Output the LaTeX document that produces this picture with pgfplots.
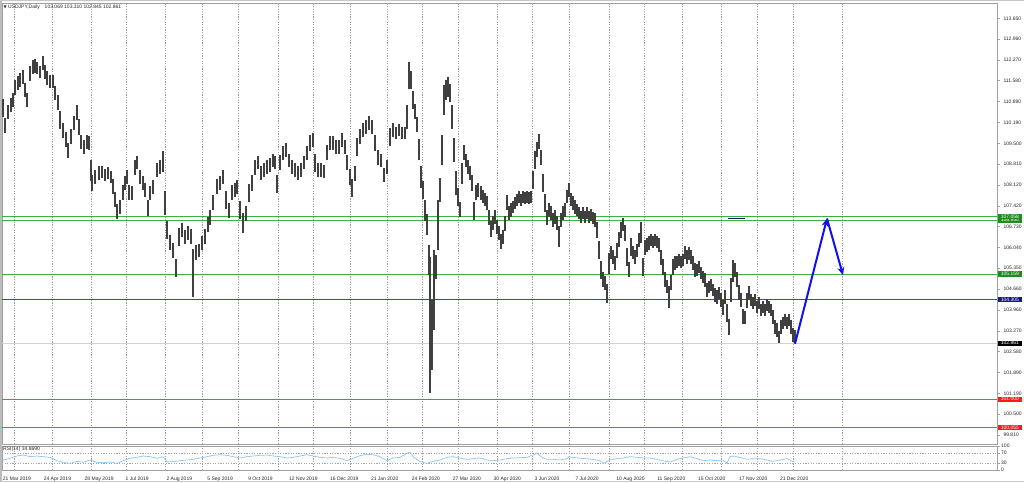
\documentclass[border=0pt]{standalone}
\usepackage{fontspec}
\setmainfont{Liberation Sans}
\newfontfamily\symfont{DejaVu Sans}
\usepackage{pgfplots}
\usepackage{pgfplotstable}
\pgfplotsset{compat=1.18}
\usetikzlibrary{arrows.meta}

\definecolor{lvgreen}{HTML}{3CB043}
\definecolor{lbgreen}{HTML}{1E8C1E}
\definecolor{lvblue}{HTML}{3C3CE6}
\definecolor{lbblue}{HTML}{18188C}
\definecolor{lvred}{HTML}{FF4040}
\definecolor{lbred}{HTML}{FF1A1A}
\definecolor{rsiblue}{HTML}{8CC4F2}
\definecolor{frame}{HTML}{A0A0A0}
\definecolor{arrowblue}{HTML}{1010F0}
\definecolor{boxnavy}{HTML}{0A1F6B}

\begin{document}

% daily bars: x position, mid price, half range
\pgfplotstableread{
x p r
3 110.67 0.30
5 110.08 0.25
8 110.54 0.22
11 110.77 0.22
13 110.94 0.22
15 111.34 0.25
18 111.50 0.22
20 111.60 0.22
23 111.70 0.22
25 111.27 0.22
27 110.94 0.22
30 111.83 0.25
33 112.03 0.22
35 112.07 0.22
37 112.00 0.20
40 111.87 0.20
43 112.17 0.22
45 111.87 0.22
47 111.67 0.22
50 111.54 0.22
53 111.54 0.22
55 111.17 0.22
58 110.84 0.25
60 110.27 0.30
63 109.94 0.25
66 109.61 0.25
68 109.25 0.25
71 109.71 0.25
74 110.17 0.22
77 110.51 0.25
79 110.04 0.25
81 109.54 0.22
84 109.38 0.22
87 109.54 0.22
89 109.51 0.22
91 108.61 0.35
92 108.18 0.25
95 108.38 0.22
99 108.51 0.22
102 108.55 0.20
105 108.45 0.20
108 108.51 0.20
111 108.38 0.20
113 108.05 0.25
115 107.62 0.25
117 107.22 0.25
120 107.38 0.22
123 107.85 0.25
125 108.18 0.22
127 108.38 0.22
129 107.85 0.25
132 107.85 0.22
135 108.71 0.25
137 108.85 0.22
140 108.38 0.22
143 108.18 0.22
145 107.95 0.22
148 107.35 0.25
150 107.85 0.22
153 108.05 0.22
157 108.61 0.22
160 108.71 0.22
163 108.88 0.35
165 107.52 0.40
167 106.62 0.30
170 106.19 0.25
173 105.95 0.25
176 105.35 0.30
179 106.39 0.30
182 106.62 0.22
185 106.39 0.22
188 106.52 0.22
191 106.39 0.25
193 105.20 0.80
196 105.86 0.25
199 105.95 0.22
202 106.19 0.22
205 106.39 0.25
208 106.79 0.25
210 107.05 0.25
213 107.52 0.25
217 108.05 0.25
220 108.18 0.22
223 108.38 0.22
226 107.62 0.30
229 107.28 0.25
232 107.85 0.25
235 107.95 0.22
237 108.05 0.22
240 107.28 0.30
243 106.85 0.33
246 107.18 0.25
249 107.85 0.30
252 108.18 0.25
255 108.71 0.25
258 108.85 0.22
261 108.51 0.22
264 108.61 0.22
267 108.71 0.22
270 108.78 0.22
273 108.94 0.22
275 108.85 0.22
277 108.15 0.30
280 108.85 0.25
283 109.18 0.22
286 109.28 0.22
289 108.94 0.22
292 108.71 0.22
295 108.61 0.22
298 108.51 0.22
301 108.61 0.22
304 108.85 0.22
307 109.18 0.22
310 109.51 0.25
313 109.61 0.22
315 108.85 0.30
318 108.61 0.22
321 108.61 0.22
324 108.55 0.22
327 109.18 0.25
330 109.51 0.22
333 109.51 0.22
336 109.38 0.22
339 109.38 0.22
342 109.61 0.22
345 109.38 0.22
347 108.85 0.25
350 108.38 0.25
352 108.00 0.30
355 108.51 0.25
357 109.38 0.30
360 109.71 0.25
363 109.94 0.22
366 110.04 0.22
369 110.17 0.22
372 110.04 0.22
375 109.51 0.25
378 109.04 0.25
381 108.94 0.22
384 108.45 0.22
387 108.71 0.22
390 109.71 0.30
393 109.94 0.22
396 109.84 0.20
399 109.94 0.20
402 109.84 0.20
405 109.84 0.20
407 110.37 0.40
409 111.75 0.45
411 111.60 0.30
413 110.94 0.30
415 110.54 0.25
417 110.11 0.25
419 109.28 0.35
421 108.38 0.35
423 107.95 0.30
425 107.28 0.35
427 106.79 0.35
429 105.62 0.50
430 103.46 2.26
432 103.13 1.16
434 104.63 1.33
436 105.39 0.40
438 106.79 0.84
440 107.95 0.40
442 109.28 0.50
444 110.94 0.50
446 111.27 0.33
448 111.37 0.33
450 111.17 0.30
452 110.37 0.40
454 109.28 0.40
456 108.18 0.40
458 107.72 0.30
460 107.30 0.25
462 108.51 0.35
464 109.18 0.25
466 108.94 0.22
468 108.71 0.22
470 108.51 0.22
472 108.18 0.25
474 107.25 0.30
476 107.85 0.25
478 107.95 0.22
481 107.85 0.22
483 107.72 0.22
485 107.62 0.22
487 107.52 0.22
489 107.05 0.25
491 106.65 0.27
493 106.85 0.22
495 107.05 0.22
497 106.72 0.22
499 106.52 0.22
501 106.25 0.25
503 106.39 0.22
505 106.85 0.25
507 107.52 0.25
509 107.18 0.22
511 107.28 0.22
513 107.38 0.20
515 107.52 0.20
517 107.62 0.20
519 107.72 0.20
521 107.62 0.20
523 107.72 0.20
525 107.68 0.20
527 107.72 0.20
529 107.68 0.20
531 107.72 0.20
533 108.28 0.30
535 108.94 0.30
537 109.28 0.25
539 109.55 0.25
541 109.04 0.25
543 108.18 0.30
545 107.52 0.30
547 107.05 0.25
549 107.28 0.22
551 107.18 0.22
553 106.95 0.22
555 107.05 0.22
557 106.85 0.22
559 106.40 0.35
561 106.95 0.22
563 107.18 0.22
565 107.28 0.22
567 107.72 0.22
569 107.95 0.22
571 107.62 0.22
573 107.52 0.22
575 107.38 0.22
577 107.28 0.20
579 107.18 0.20
581 107.05 0.20
583 107.18 0.20
585 107.05 0.20
587 107.18 0.20
589 107.05 0.20
591 107.12 0.20
593 107.02 0.20
595 106.95 0.22
597 106.62 0.25
599 105.95 0.30
601 105.29 0.30
603 104.96 0.25
605 104.86 0.22
607 104.50 0.32
609 105.52 0.35
611 105.86 0.22
613 105.72 0.22
615 105.52 0.22
617 105.95 0.25
619 106.29 0.25
621 106.62 0.25
623 106.80 0.22
625 106.52 0.25
627 105.72 0.30
629 105.30 0.25
631 106.05 0.30
633 105.86 0.22
635 105.72 0.22
637 105.95 0.22
639 106.29 0.22
641 106.55 0.35
643 105.39 0.30
645 106.05 0.25
647 106.12 0.22
649 106.19 0.22
651 106.29 0.20
653 106.22 0.20
655 106.29 0.20
657 106.22 0.20
659 106.12 0.22
661 105.72 0.25
663 105.39 0.25
665 104.96 0.25
667 104.73 0.22
669 104.40 0.37
671 104.86 0.25
673 105.39 0.25
675 105.52 0.22
677 105.56 0.20
679 105.62 0.20
681 105.56 0.20
683 105.62 0.20
685 105.86 0.22
687 105.72 0.22
689 105.85 0.22
691 105.72 0.22
693 105.52 0.22
695 105.29 0.22
697 105.29 0.20
699 105.39 0.20
701 105.19 0.20
703 105.06 0.20
705 104.96 0.22
707 104.63 0.22
709 104.73 0.20
711 104.79 0.20
713 104.63 0.20
715 104.46 0.22
717 104.39 0.22
719 104.53 0.20
721 104.29 0.22
723 104.06 0.25
725 104.39 0.22
727 103.86 0.30
729 103.40 0.27
731 104.63 0.40
733 105.25 0.37
735 105.29 0.22
737 104.96 0.25
739 104.53 0.25
741 104.29 0.22
743 103.73 0.25
745 103.70 0.22
747 104.29 0.25
749 104.53 0.22
751 104.29 0.20
753 104.19 0.20
755 104.29 0.20
757 104.06 0.20
759 104.19 0.20
761 103.96 0.20
763 104.06 0.20
765 103.96 0.20
767 104.13 0.20
769 104.06 0.20
771 103.96 0.20
773 103.73 0.22
775 103.40 0.22
777 103.30 0.22
779 103.07 0.20
781 103.40 0.22
783 103.53 0.20
785 103.63 0.20
787 103.53 0.20
789 103.63 0.20
791 103.40 0.22
793 103.13 0.22
795 103.08 0.23
}\bars

% RSI(14)
\pgfplotstableread{
x v
3 41.7
10 48.6
17 58.3
23 62.5
30 55.6
37 58.3
43 55.6
50 52.8
57 38.9
63 31.9
70 27.8
77 36.1
83 31.9
90 41.7
97 31.9
103 30.6
110 33.3
117 27.8
123 38.9
130 48.6
137 52.8
143 58.3
150 55.6
157 48.6
163 55.6
167 34.7
173 34.7
180 38.9
187 41.7
193 44.4
200 50.0
207 55.6
213 61.1
220 63.9
227 61.1
233 55.6
240 50.0
247 55.6
253 58.3
260 61.1
267 62.5
273 58.3
280 55.6
287 50.0
293 52.8
300 58.3
307 63.9
313 58.3
320 52.8
327 50.0
333 52.8
340 48.6
347 38.9
353 48.6
360 59.7
367 65.3
373 63.9
380 55.6
387 38.9
393 50.0
400 52.8
407 69.4
410 75.0
413 55.6
420 34.7
427 27.8
433 36.1
440 41.7
447 52.8
453 55.6
460 50.0
467 44.4
473 47.2
480 50.0
487 41.7
493 38.9
500 41.7
507 47.2
513 50.0
520 51.4
527 52.8
532 61.1
537 69.4
542 52.8
547 44.4
553 44.4
560 41.7
567 47.2
569 55.6
573 52.8
580 48.6
587 47.2
593 44.4
600 38.9
603 27.8
610 41.7
617 47.2
623 50.0
630 55.6
637 52.8
643 50.0
650 50.0
657 44.4
663 38.9
670 33.3
677 44.4
683 50.0
690 55.6
697 47.2
703 38.9
710 41.7
717 38.9
723 41.7
727 27.8
730 55.6
733 58.3
740 52.8
747 44.4
753 47.2
760 47.2
767 41.7
773 36.1
780 41.7
787 47.2
793 34.9
}\rsi

\begin{tikzpicture}[x=1pt,y=1pt,font=\fontsize{5}{6}\selectfont,
  lab/.style={anchor=west,text=white,inner xsep=1pt,inner ysep=0.8pt,
    minimum width=24pt,font=\fontsize{5}{6}\selectfont,xshift=0.6pt}]
\path[use as bounding box] (0,0) rectangle (1024,-482);
\draw[frame!70,line width=1.5pt] (0.75,0) -- (0.75,-482);
\draw[frame!60,line width=0.8pt] (0,-0.4) -- (1024,-0.4);
\draw[frame!60,line width=1.2pt] (0,-481.4) -- (1024,-481.4);

\pgfplotsset{
  mt/.style={scale only axis, anchor=north west, width=995pt,
    xmin=2, xmax=997,
    axis line style={frame,line width=0.8pt},
    tick label style={font=\fontsize{5}{6}\selectfont, text=black!85},
    /pgf/number format/assume math mode=true,
    major grid style={gray!75,dash pattern=on 1.2pt off 1.4pt,line width=0.45pt},
    tick align=outside, major tick length=3pt,
    ytick pos=right, yticklabel pos=right,
    y tick style={frame,line width=0.5pt},
    x tick style={draw=none},
    clip mode=individual},
}

\begin{axis}[mt, at={(2pt,-3pt)}, height=441pt,
  ymin=99.51, ymax=114.16,
  xtick={14.7,52.3,91.7,126,165,202,238,278,313,350,387,422,458,497,532,569,609,644,682,721,757,793,842},
  xticklabels={}, xmajorgrids,
  ytick={99.81,100.5,101.19,101.89,102.58,103.27,103.96,104.66,105.35,106.04,106.73,107.42,108.12,108.81,109.5,110.19,110.89,111.58,112.27,112.96,113.65},
  yticklabel style={/pgf/number format/.cd,fixed,fixed zerofill,precision=3},
]
% levels
\addplot[gray!35,line width=0.6pt] coordinates {(2,102.861) (997,102.861)};
\addplot[lvgreen,line width=0.8pt] coordinates {(2,107.058) (997,107.058)};
\addplot[lvgreen,line width=0.8pt] coordinates {(2,106.95) (997,106.95)};
\addplot[lvgreen,line width=0.8pt] coordinates {(2,105.159) (997,105.159)};
\addplot[lvblue,line width=0.8pt] coordinates {(2,104.305) (997,104.305)};
\addplot[lvred,line width=0.8pt] coordinates {(2,101.0) (997,101.0)};
\addplot[lvred,line width=0.8pt] coordinates {(2,100.055) (997,100.055)};
% bars
\addplot[draw=none, mark=none,
  error bars/.cd, y dir=both, y explicit, error mark=none,
  error bar style={draw=black!75,line width=1.5pt}]
  table[x=x,y=p,y error=r] {\bars};
% drawing objects
\addplot[boxnavy,line width=1.8pt] coordinates {(728,107.0) (745,107.0)};
\addplot[arrowblue,line width=2pt,-{Stealth[length=8pt,width=7pt]}]
  coordinates {(795,102.84) (827,107.0)};
\addplot[arrowblue,line width=2pt,-{Stealth[length=8pt,width=7pt]}]
  coordinates {(827,107.0) (843,105.12)};
% price labels
\node[lab,fill=lbgreen] at (axis cs:997,106.95) {106.950};
\node[lab,fill=lbgreen] at (axis cs:997,107.058) {107.058};
\node[lab,fill=lbgreen] at (axis cs:997,105.159) {105.159};
\node[lab,fill=lbblue] at (axis cs:997,104.305) {104.305};
\node[lab,fill=black] at (axis cs:997,102.861) {102.861};
\node[lab,fill=lbred] at (axis cs:997,101.0) {101.000};
\node[lab,fill=lbred] at (axis cs:997,100.055) {100.055};
\node[anchor=north west,inner sep=1.5pt,text=black!85] at (rel axis cs:0,1)
  {{\symfont\fontsize{4}{5}\selectfont ▼}\ USDJPY,Daily\quad 103.069 103.310 102.845 102.861};
\end{axis}

\begin{axis}[mt, at={(2pt,-446pt)}, height=24pt,
  ymin=0, ymax=100,
  xtick={2.7,43.6,84.5,125.4,166.3,207.2,248.1,289,329.9,370.8,411.7,452.6,493.5,534.4,575.3,616.2,657.1,698,738.9,779.8},
  xticklabels={21 Mar 2019,24 Apr 2019,28 May 2019,1 Jul 2019,2 Aug 2019,5 Sep 2019,9 Oct 2019,12 Nov 2019,16 Dec 2019,21 Jan 2020,24 Feb 2020,27 Mar 2020,30 Apr 2020,3 Jun 2020,7 Jul 2020,10 Aug 2020,11 Sep 2020,15 Oct 2020,17 Nov 2020,21 Dec 2020},
  xticklabel style={anchor=north west,inner xsep=0pt,yshift=-0.5pt},
  extra x ticks={14.7,52.3,91.7,126,165,202,238,278,313,350,387,422,458,497,532,569,609,644,682,721,757,793,842},
  extra x tick labels={},
  extra x tick style={grid=major,tick style={draw=none}},
  ytick={0,30,70,100},
  yticklabel style={inner xsep=1pt},
]
\addplot[gray!70,dash pattern=on 1.2pt off 1.4pt,line width=0.45pt] coordinates {(2,70) (997,70)};
\addplot[gray!70,dash pattern=on 1.2pt off 1.4pt,line width=0.45pt] coordinates {(2,30) (997,30)};
\addplot[rsiblue,line width=0.7pt] table[x=x,y=v] {\rsi};
\node[anchor=north west,inner sep=1pt,text=black!85] at (rel axis cs:0,1) {RSI(14) 34.8690};
\end{axis}
\end{tikzpicture}
\end{document}
